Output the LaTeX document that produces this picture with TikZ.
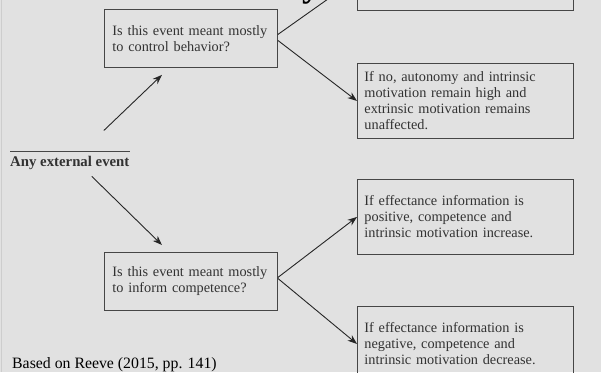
\documentclass[tikz,border=0pt]{standalone}
\usepackage{fontspec}
\setmainfont{Liberation Serif}
\usetikzlibrary{arrows.meta, positioning, calc}
\definecolor{bggray}{RGB}{225,225,225}
\definecolor{edgegray}{RGB}{205,205,205}
\definecolor{boxline}{RGB}{70,70,70}
\definecolor{inkgray}{RGB}{50,50,50}

\begin{document}
\begin{tikzpicture}[x=1pt, y=-1pt,
  qbox/.style={draw=boxline, line width=0.9pt, anchor=north west,
    minimum width=173pt, minimum height=58pt, text width=157pt,
    inner xsep=8pt, inner ysep=0pt, align=left, text=inkgray,
    font=\fontsize{14.3}{16}\selectfont},
  abox/.style={qbox, minimum width=216pt, minimum height=75pt,
    text width=202pt, inner xsep=7pt},
  arr/.style={-{Stealth[length=9.5pt,width=7pt]}, line width=0.9pt, draw=black!85}]
  \useasboundingbox (0,0) rectangle (601,372);
  \clip (0,0) rectangle (601,372);
  % Background
  \fill[bggray] (0,0) rectangle (601,372);
  \draw[edgegray, line width=1pt] (1.5,0) -- (1.5,372);
  % Tail of the cut-off title
  \node[font=\bfseries\fontsize{36}{36}\selectfont, anchor=base, inner sep=0pt] (titley) at (311,-3) {y};
  % Start
  \node[font=\bfseries\fontsize{14.8}{16}\selectfont, text=inkgray, anchor=base west, inner sep=0pt] (event) at (10,166) {Any external event};
  \draw[boxline, line width=0.9pt] ([yshift=4pt]event.north west) -- ([yshift=4pt]event.north east);
  % Questions
  \node[qbox] (ctrl) at (104,9) {Is this event meant mostly\\to control behavior?};
  \node[qbox] (inform) at (104,252) {Is this event meant mostly\\to inform competence?};
  % Outcomes
  \node[abox, minimum height=64pt] (yesctrl) at (357,-54) {};
  \node[abox] (noctrl) at (357,63) {If no, autonomy and intrinsic\\motivation remain high and\\extrinsic motivation remains\\unaffected.};
  \node[abox] (positive) at (357,179) {If effectance information is\\positive, competence and\\intrinsic motivation increase.};
  \node[abox] (negative) at (357,306) {If effectance information is\\negative, competence and\\intrinsic motivation decrease.};
  % Arrows
  \draw[arr] ([xshift=34pt,yshift=25pt]event.north) -- ([xshift=-29pt,yshift=-7pt]ctrl.south);
  \draw[arr] ([xshift=22pt,yshift=-7pt]event.south) -- ([xshift=-29pt,yshift=7pt]inform.north);
  \draw[arr] ([yshift=4pt]ctrl.east) -- (yesctrl.west);
  \draw[arr] ([yshift=-2pt]ctrl.east) -- (noctrl.west);
  \draw[arr] ([yshift=4pt]inform.east) -- (positive.west);
  \draw[arr] ([yshift=3pt]inform.east) -- (negative.west);
  % Source
  \node[font=\fontsize{15.8}{18}\selectfont, anchor=base west, inner sep=0pt] (source) at (12,368) {Based on Reeve (2015, pp. 141)};
\end{tikzpicture}
\end{document}
